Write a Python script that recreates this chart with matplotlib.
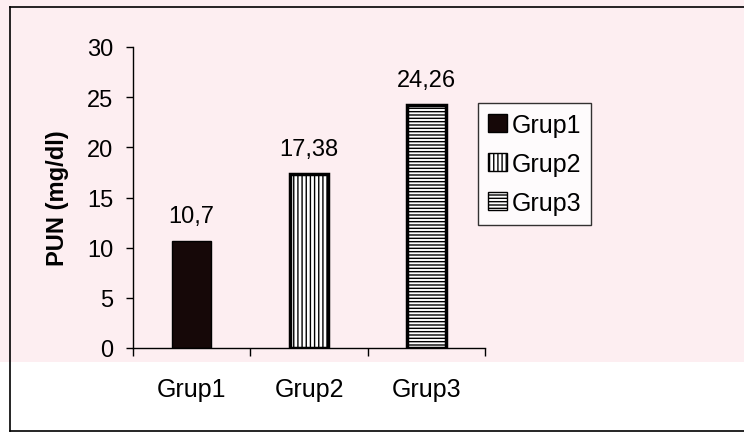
import matplotlib
matplotlib.use("Agg")
import matplotlib.pyplot as plt
from matplotlib.patches import Rectangle, Patch
from matplotlib.lines import Line2D

categories = ["Grup1", "Grup2", "Grup3"]
values = [10.7, 17.38, 24.26]
value_labels = ["10,7", "17,38", "24,26"]
yticks = [0, 5, 10, 15, 20, 25, 30]

plt.rcParams['font.family'] = ['Liberation Sans', 'DejaVu Sans']
plt.rcParams['hatch.linewidth'] = 1.0

W, H = 744, 439
fig = plt.figure(figsize=(W / 100, H / 100), dpi=100)
fig.patch.set_facecolor("white")

# faint pink scan background in the upper region
fig.patches.append(Rectangle((0, (H - 363) / H), 1, 363 / H, transform=fig.transFigure,
                             facecolor="#fdeef1", edgecolor="none", zorder=-10))

# outer frame
for xs, ys in [([10 / W, 1.0], [1 - 8 / H, 1 - 8 / H]),
               ([10 / W, 10 / W], [1 - 8 / H, 1 - 432 / H]),
               ([10 / W, 1.0], [1 - 432 / H, 1 - 432 / H])]:
    fig.add_artist(Line2D(xs, ys, transform=fig.transFigure, color="black", lw=1.2))

ax = fig.add_axes([133 / W, (H - 349) / H, (485 - 133) / W, (349 - 48) / H])
ax.set_facecolor("none")

facecolors = ["#160808", "white", "white"]
hatches = [None, "||||", "-----"]
edge_widths = [1.0, 2.5, 2.5]
x = list(range(len(categories)))
bars = ax.bar(x, values, width=0.33, color=facecolors, edgecolor="black")
for b, h, lw in zip(bars, hatches, edge_widths):
    b.set_linewidth(lw)
    if h:
        b.set_hatch(h)

for xi, v, lab in zip(x, values, value_labels):
    ax.text(xi, v + 1.4, lab, ha="center", va="bottom", fontsize=17)

ax.set_xlim(-0.5, 2.5)
ax.set_ylim(0, 30)
ax.set_yticks(yticks)
ax.tick_params(axis="y", labelsize=17, length=5, width=1, direction="out", pad=9)
ax.set_xticks([-0.5, 0.5, 1.5, 2.5])
ax.set_xticklabels([])
ax.tick_params(axis="x", length=6, width=1, direction="out")
for xi, c in zip(x, categories):
    ax.text(xi, -2.9, c, ha="center", va="top", fontsize=18, transform=ax.transData)

ax.spines["top"].set_visible(False)
ax.spines["right"].set_visible(False)
ax.spines["left"].set_linewidth(1)
ax.spines["bottom"].set_linewidth(1)

ax.set_ylabel("PUN (mg/dl)", fontsize=17, fontweight="bold", labelpad=13)

handles = [Patch(facecolor=fc, edgecolor="black", hatch=h, linewidth=1)
           for fc, h in zip(facecolors, hatches)]
leg = fig.legend(handles, categories, loc="upper left",
                 bbox_to_anchor=(478 / W, 1 - 104 / H), fontsize=18,
                 frameon=True, fancybox=False, handlelength=0.75, handleheight=0.75,
                 handletextpad=0.2, borderpad=0.4, labelspacing=0.6, borderaxespad=0)
leg.get_frame().set_edgecolor("black")
leg.get_frame().set_linewidth(1)
leg.get_frame().set_facecolor("white")

fig.savefig("out.png", dpi=100)
